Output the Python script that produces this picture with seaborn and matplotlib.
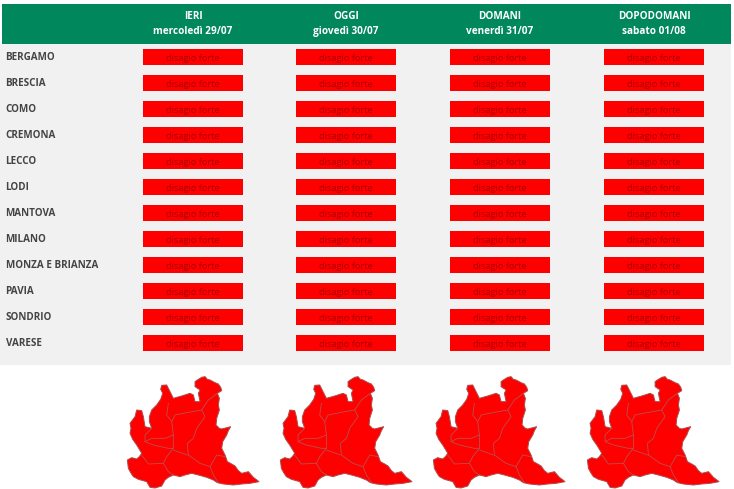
import matplotlib
matplotlib.use("Agg")
import matplotlib.pyplot as plt
from matplotlib.patches import Rectangle
import seaborn as sns
import pandas as pd

province = ["BERGAMO", "BRESCIA", "COMO", "CREMONA", "LECCO", "LODI", "MANTOVA",
            "MILANO", "MONZA E BRIANZA", "PAVIA", "SONDRIO", "VARESE"]
giorni = ["IERI", "OGGI", "DOMANI", "DOPODOMANI"]
date = ["mercoledì 29/07", "giovedì 30/07", "venerdì 31/07", "sabato 01/08"]
ieri = [1, 1, 1, 1, 1, 1, 1, 1, 1, 1, 1, 1]
oggi = [1, 1, 1, 1, 1, 1, 1, 1, 1, 1, 1, 1]
domani = [1, 1, 1, 1, 1, 1, 1, 1, 1, 1, 1, 1]
dopodomani = [1, 1, 1, 1, 1, 1, 1, 1, 1, 1, 1, 1]
etichetta = "disagio forte"

# contorno lombardia, preso dallo zoom (pixel x3)
contorno = [(255,65),(262,60),(275,52),(285,50),(292,58),(300,60),(315,68),(325,72),(332,82),(335,92),
            (322,100),(328,115),(325,135),(328,150),(320,175),(318,195),(328,205),(335,207),(362,200),
            (355,212),(350,225),(338,245),(335,265),(345,285),(352,305),(365,312),(375,318),(385,332),
            (395,340),(415,335),(430,352),(447,365),(420,370),(395,372),(370,375),(340,372),(322,368),
            (310,360),(290,352),(265,345),(245,340),(225,345),(210,350),(190,345),(175,352),(165,360),
            (155,378),(135,384),(120,382),(110,365),(85,358),(70,350),(62,338),(55,325),(52,300),
            (65,293),(80,297),(88,290),(95,280),(88,268),(80,255),(68,238),(60,220),(63,205),(60,190),
            (75,170),(80,150),(95,152),(100,170),(105,200),(125,205),(118,185),(118,170),(125,150),
            (140,135),(152,118),(158,100),(152,88),(155,76),(170,75),(180,95),(190,115),(215,108),
            (240,100),(250,105),(255,125),(270,125),(265,100),(270,90),(255,80)]
confini = [
    [(322,100),(295,120),(275,150),(230,158),(195,165),(185,185),(190,225),(190,265),(170,290),(160,310),(115,312),(95,285)],
    [(275,150),(285,170),(260,205),(250,235),(232,250),(235,285),(270,310),(300,320),(320,285),(345,290)],
    [(190,270),(232,285)],
    [(175,130),(170,165),(185,185)],
    [(125,205),(105,225),(105,245),(125,235),(165,235),(190,225)],
    [(105,245),(130,255),(175,265),(190,265)],
    [(300,320),(310,345),(325,368)],
    [(160,310),(175,335),(190,345)],
]

GREEN = "#00875b"
W, H = 734, 489
colonne = [143, 296, 450, 604]
mappe = [0, 153, 306, 460]

sns.set_theme(style="white")
plt.rcParams["font.family"] = ["Open Sans", "DejaVu Sans"]

# il +0.1 evita che 4.89*100 venga troncato a 488 pixel
fig = plt.figure(figsize=((W + 0.1) / 100, (H + 0.1) / 100), dpi=100, facecolor="white")
bg = fig.add_axes([0, 0, 1, 1])
bg.axis("off")

bg.add_patch(Rectangle((0, 44), 731, 321, color="#f1f1f1", lw=0))
bg.add_patch(Rectangle((2, 4), 729, 40, color=GREEN, lw=0))

for x0, giorno, data in zip(colonne, giorni, date):
    bg.text(x0 + 50, 16, giorno, ha="center", va="center", color="white", fontsize=7.2, fontweight="bold")
    bg.text(x0 + 50, 31, data, ha="center", va="center", color="white", fontsize=7.2, fontweight="bold")

for i, nome in enumerate(province):
    bg.text(5.5, 57.5 + 26 * i, nome, ha="left", va="center", color="#444444", fontsize=7.1, fontweight="bold")

for x0, livelli in zip(colonne, [ieri, oggi, domani, dopodomani]):
    ax = fig.add_axes([x0 / W, 1 - 356 / H, 100 / W, 312 / H])
    df = pd.DataFrame({"provincia": province, "livello": livelli})
    sns.barplot(data=df, y="provincia", x="livello", color="#ff0000", saturation=1,
                width=16 / 26, linewidth=0, ax=ax)
    ax.set_xlim(0, 1)
    ax.set_ylim(11.5, -0.5)
    ax.axis("off")
    ax.patch.set_alpha(0)
    for i in range(len(province)):
        ax.text(0.5, i + 0.05, etichetta, ha="center", va="center", color="#a80000", fontsize=6.7)

for dx in mappe:
    xs = [110 + dx + p[0] / 3 for p in contorno]
    ys = [360 + p[1] / 3 for p in contorno]
    bg.fill(xs, ys, facecolor="#ff0000", edgecolor="#b04a4a", lw=0.7, zorder=3)
    for linea in confini:
        bg.plot([110 + dx + p[0] / 3 for p in linea], [360 + p[1] / 3 for p in linea],
                color="#b85050", lw=0.6, zorder=4)

bg.set_xlim(0, W)
bg.set_ylim(H, 0)

fig.savefig("out.png", dpi=100)
